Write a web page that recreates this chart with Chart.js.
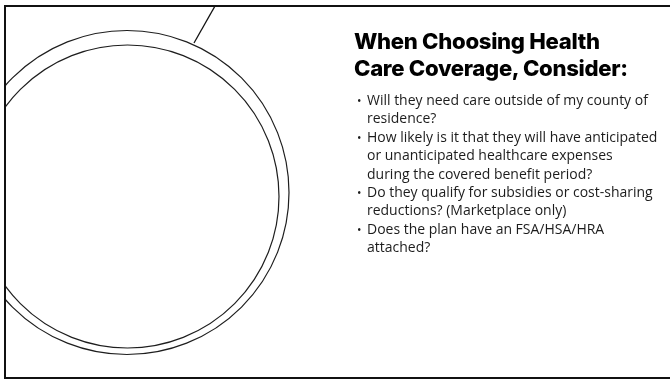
<!DOCTYPE html>
<html>
<head>
<meta charset="utf-8">
<script src="https://cdn.jsdelivr.net/npm/chart.js@4.4.1/dist/chart.umd.min.js"></script>
<style>
  html, body { margin: 0; padding: 0; background: #fff; }
  #slide { position: relative; width: 670px; height: 380px; overflow: hidden; }
  #frame {
    position: absolute; left: 4px; top: 5px; width: 680px; height: 374px;
    box-sizing: border-box; border-top: 2px solid #111; border-left: 2px solid #111; border-bottom: 2px solid #111;
  }
  #plot { position: absolute; left: 6px; top: 7px; width: 664px; height: 370px; }
  #title {
    position: absolute; left: 354px; top: 28px; margin: 0;
    font-family: Inter, "DejaVu Sans", sans-serif; font-weight: 800; color: #000;
    line-height: 27px; white-space: nowrap; letter-spacing: -0.3px;
  }
  #points {
    position: absolute; left: 357px; top: 91px; margin: 0; padding: 0; list-style: none;
    font-family: "Open Sans", "DejaVu Sans", sans-serif; color: #1c1c1c;
    line-height: 18.4px; white-space: nowrap;
  }
  #points li { position: relative; padding-left: 10px; }
  #points li::before { content: "\2022"; position: absolute; left: 0; top: 0; font-size: 0.85em; }
</style>
</head>
<body>
<div id="slide">
  <div id="plot"><canvas id="chart" width="664" height="370"></canvas></div>
  <div id="frame"></div>
  <h1 id="title">When Choosing Health<br>Care Coverage, Consider:</h1>
  <ul id="points"></ul>
</div>
<script>
// slide units: 1 unit = 1px of the 670x380 slide (scales below keep that 1:1)
const ringNames = ['outer ring', 'inner ring'];
const ringX = [127, 127.5];
const ringY = [192.5, 196.5];
const ringR = [162, 151.5];

const strokeX = [215, 194];
const strokeY = [6, 43];

const titleLines = ['When Choosing Health', 'Care Coverage, Consider:'];
const bullets = [
  ['Will they need care outside of my county of', 'residence?'],
  ['How likely is it that they will have anticipated', 'or unanticipated healthcare expenses', 'during the covered benefit period?'],
  ['Do they qualify for subsidies or cost-sharing', 'reductions? (Marketplace only)'],
  ['Does the plan have an FSA/HSA/HRA', 'attached?']
];

// fit text sizes to the widths measured on the reference
function fitSize(font, text, target) {
  const c = document.createElement('canvas').getContext('2d');
  c.font = font.replace('SIZE', '100px');
  return 100 * target / c.measureText(text).width;
}

const titleEl = document.getElementById('title');
const titleSize = fitSize('800 SIZE Inter', titleLines[1], 282);
titleEl.style.fontSize = titleSize.toFixed(2) + 'px';

const list = document.getElementById('points');
const bodySize = fitSize('SIZE "Open Sans"', bullets[0][0], 281);
list.style.fontSize = bodySize.toFixed(2) + 'px';
bullets.forEach(lines => {
  const li = document.createElement('li');
  lines.forEach((line, i) => {
    if (i > 0) li.appendChild(document.createElement('br'));
    li.appendChild(document.createTextNode(line));
  });
  list.appendChild(li);
});

const ctx = document.getElementById('chart').getContext('2d');
new Chart(ctx, {
  type: 'bubble',
  data: {
    datasets: [
      {
        label: 'rings',
        data: ringX.map((x, i) => ({ x: x, y: ringY[i], r: ringR[i] })),
        backgroundColor: 'rgba(0,0,0,0)',
        borderColor: '#1e1e1e',
        borderWidth: 1.2
      },
      {
        type: 'line',
        label: 'stroke',
        data: strokeX.map((x, i) => ({ x: x, y: strokeY[i] })),
        borderColor: '#111',
        borderWidth: 1.3,
        pointRadius: 0,
        fill: false
      }
    ]
  },
  options: {
    responsive: false,
    animation: false,
    events: [],
    layout: { padding: 0, autoPadding: false },
    plugins: { legend: { display: false }, tooltip: { enabled: false }, title: { display: false } },
    scales: {
      x: { type: 'linear', min: 6, max: 670, display: false },
      y: { type: 'linear', min: 7, max: 377, reverse: true, display: false }
    }
  }
});
</script>
</body>
</html>
